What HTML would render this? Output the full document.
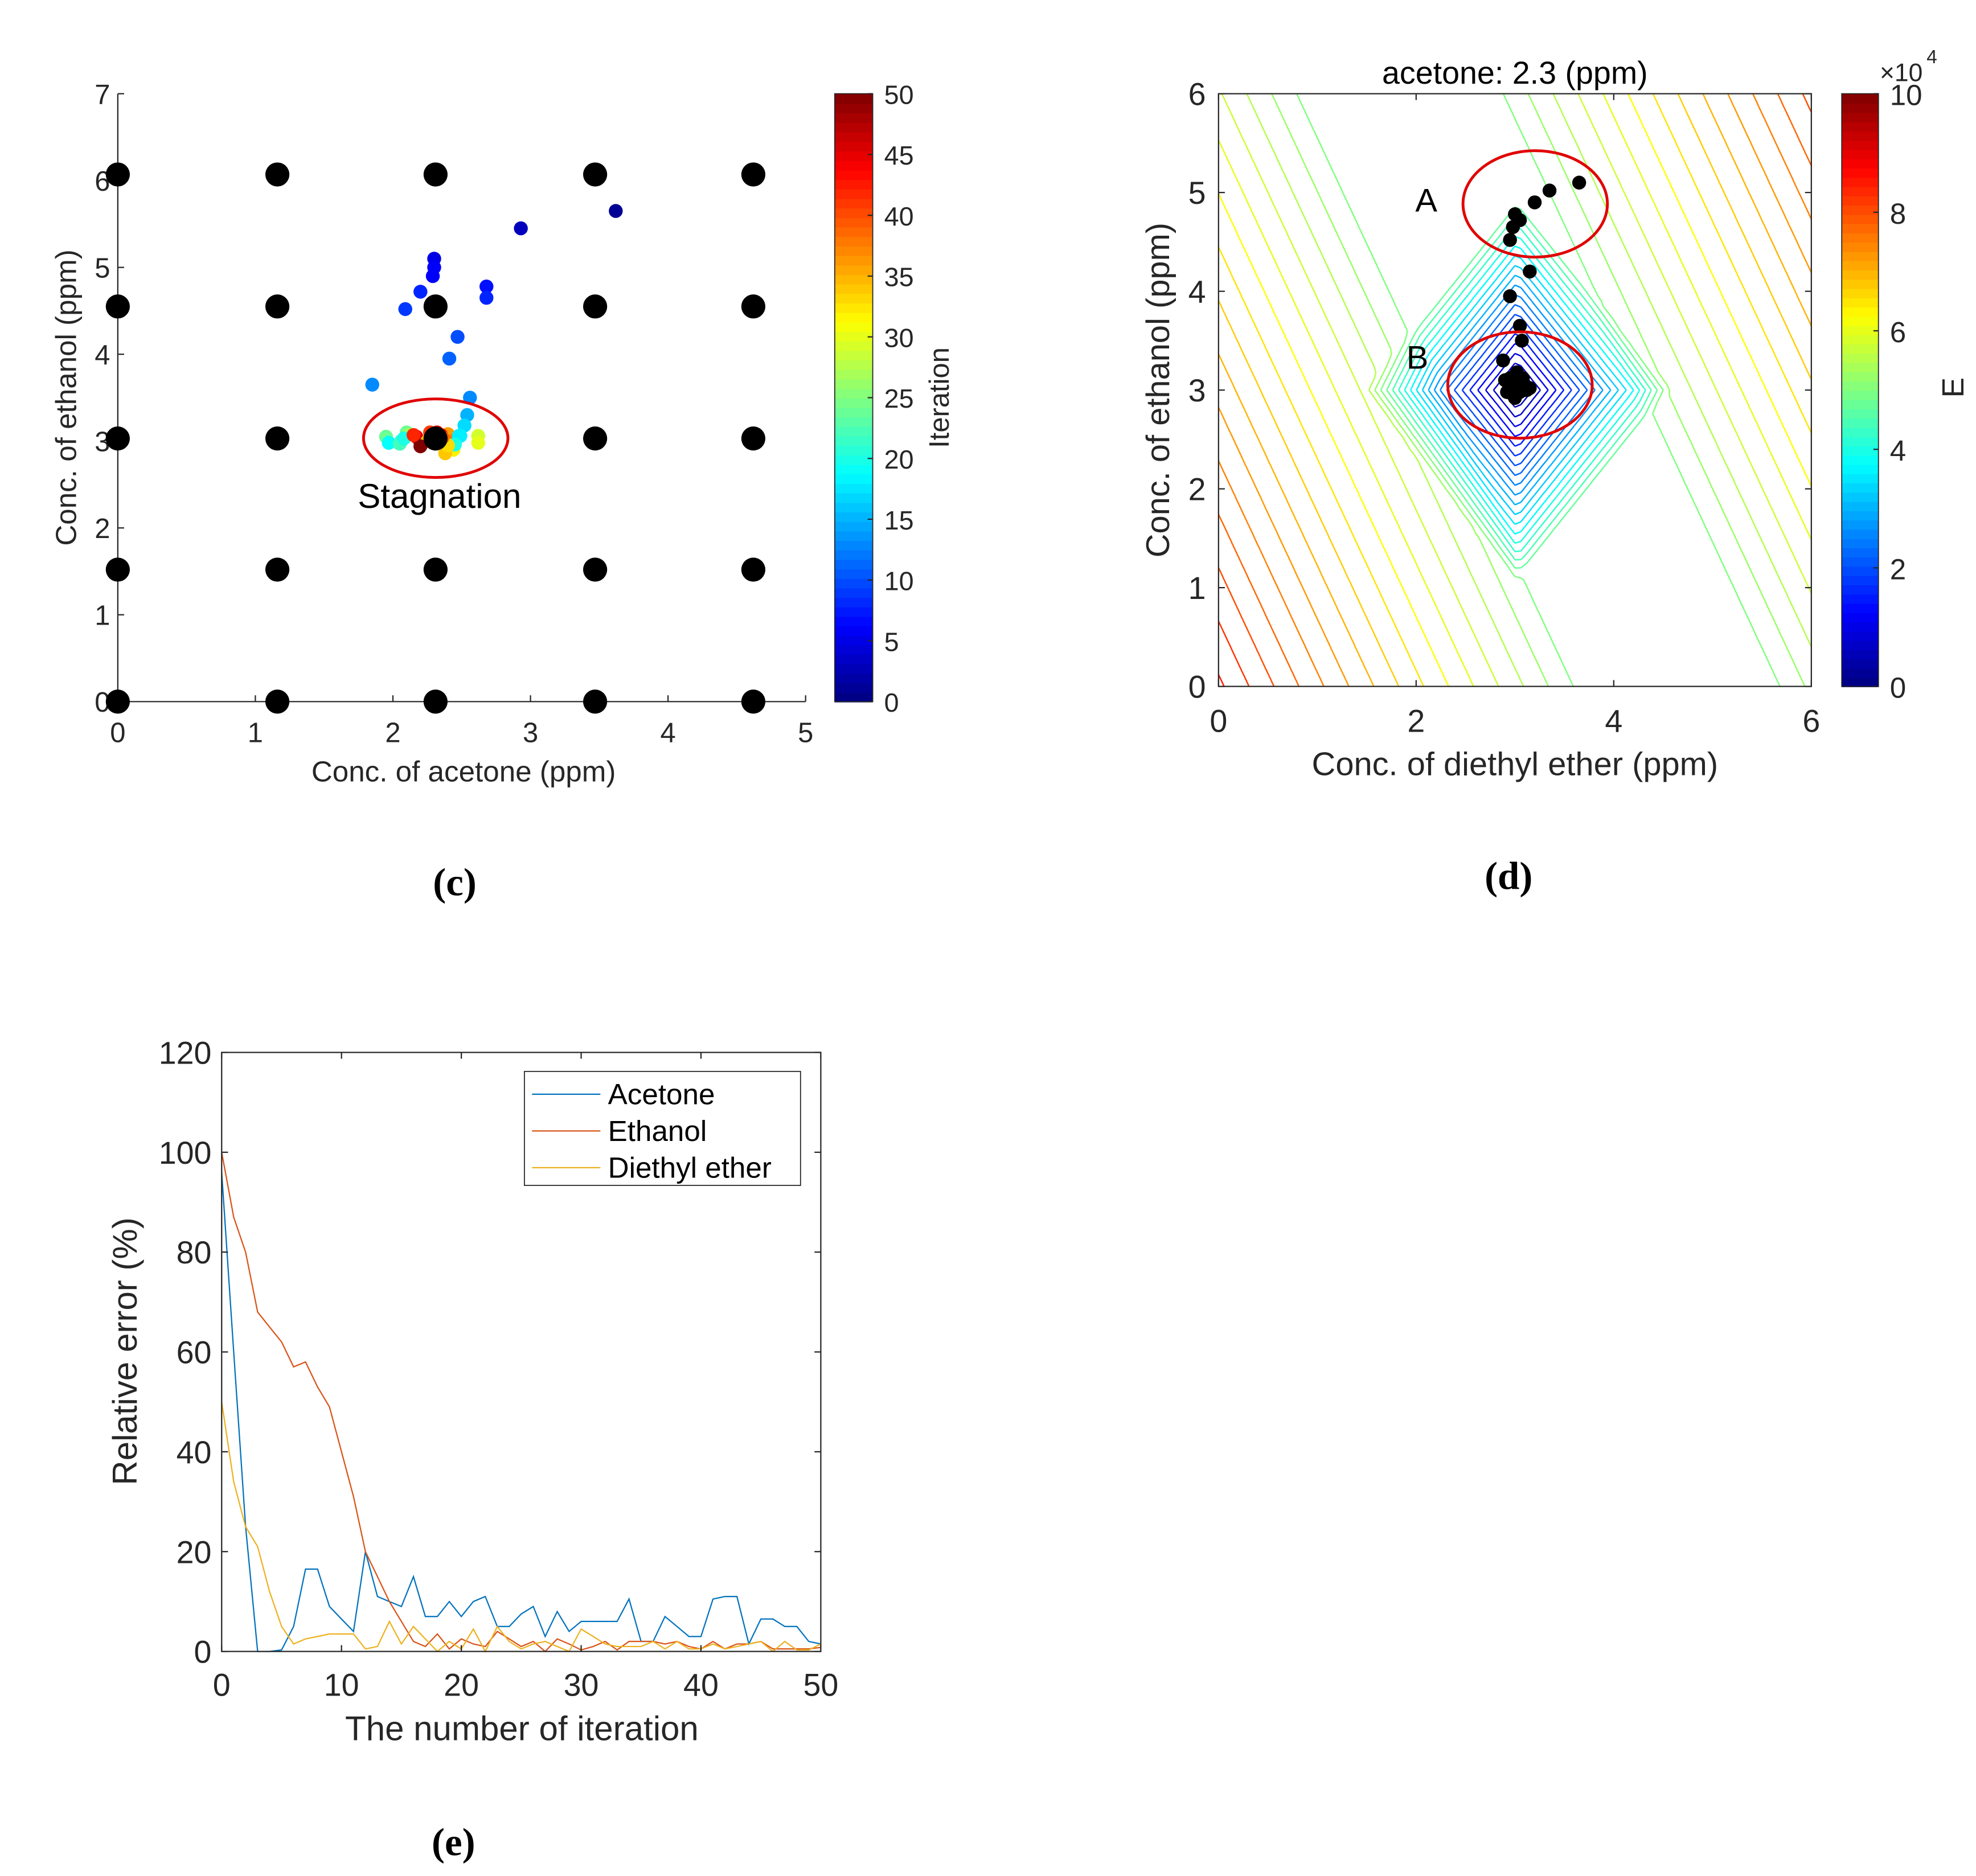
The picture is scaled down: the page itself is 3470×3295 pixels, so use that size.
<!DOCTYPE html>
<html><head><meta charset="utf-8"><style>
html,body{margin:0;padding:0;background:#fff;}
svg{display:block;}
text{font-family:"Liberation Sans",sans-serif;fill:#262626;}
</style></head><body>
<svg id="fig" xmlns="http://www.w3.org/2000/svg" width="3470" height="3295" viewBox="0 0 1560 1481.3" preserveAspectRatio="none">
<rect x="0" y="0" width="1560" height="1481.3" fill="#fff"/>
<g id="pc"></g>
<g id="pd"></g>
<g id="pe"></g>
<text x="359" y="707" font-weight="bold" font-size="31" text-anchor="middle" style="font-family:'Liberation Serif',serif;fill:#000">(c)</text>
<text x="1191" y="702" font-weight="bold" font-size="31" text-anchor="middle" style="font-family:'Liberation Serif',serif;fill:#000">(d)</text>
<text x="358" y="1465" font-weight="bold" font-size="31" text-anchor="middle" style="font-family:'Liberation Serif',serif;fill:#000">(e)</text>
</svg>
<script>
// ---------- data: panel c ----------
const gridX = [0, 1.16, 2.31, 3.47, 4.62];
const gridY = [0, 1.52, 3.03, 4.55, 6.07];
const cPtsX = [3.62,2.93,2.3,2.3,2.29,2.2,2.09,2.68,2.68,2.47,2.41,1.85,2.56,2.54,2.52,2.49,
  1.95,1.97,2.06,2.1,2.05,2.12,2.08,2.17,2.2,2.25,2.28,2.4,2.44,2.45,2.38,2.35,2.43,2.48,2.45,2.62,2.62,2.4,2.2,2.15,2.32,2.36,2.27];
const cPtsY = [5.65,5.45,5.1,5.0,4.9,4.72,4.52,4.78,4.65,4.2,3.95,3.65,3.5,3.3,3.18,3.06,
  3.05,2.98,3.0,3.1,2.97,3.08,3.03,3.05,2.98,3.0,3.0,3.08,2.9,2.98,2.86,3.07,3.0,3.06,2.96,3.06,2.98,2.95,2.94,3.07,3.1,3.04,3.1];
const cPtsIter = [1,3,5,6,6,8,9,7,8,10,11,13,13,15,17,18,
  24,19,21,24,22,26,20,45,47,35,40,36,32,19,34,43,38,18,20,29,30,33,50,42,44,39,41];
const cbTicks = [0,5,10,15,20,25,30,35,40,45,50];
// ---------- data: panel d ----------
const dPtsX = [3.65,3.35,3.2,3.0,3.05,2.98,2.95,3.15,2.95,3.05,3.07,2.88,
  2.9,2.95,3.0,3.05,3.1,3.12,3.0,2.95,3.08,2.92,3.15,3.02];
const dPtsY = [5.1,5.02,4.9,4.78,4.72,4.65,4.52,4.2,3.95,3.65,3.5,3.3,
  3.1,3.0,3.05,2.98,3.05,3.0,2.92,3.12,3.12,2.98,3.02,3.18];
const dTicksX = [0,2,4,6];
const dTicksY = [0,1,2,3,4,5,6];
const dCbTicks = [0,2,4,6,8,10];
// ---------- data: panel e ----------
const iters = Array.from({length:51},(_,i)=>i);
const acetone = [96,60,25,0,0,0.3,5,16.5,16.5,9,6.5,4,20,11,10,9,15,7,7,10,7,10,11,5,5,7.5,9,3,8,4,6,6,6,6,10.5,2,2,7,5,3,3,10.5,11,11,1.5,6.5,6.5,5,5,2,1.5];
const ethanol = [100,87,80,68,65,62,57,58,53,49,40,31,20,15,10,6,2,1,3.5,0.5,2.5,1.5,1,4,2.5,1,2,0,2.5,1.5,0.3,1,2,0.3,2,2,2,1.5,2,1,0.5,2,0.5,1.5,1.5,2,0.5,0.5,0.5,0.5,0.8];
const diethyl = [50,34,25,21,12,5,1.5,2.5,3,3.5,3.5,3.5,0.5,1,6,1.5,5,2.5,0,2,0.5,4.5,0,5,2,0.5,1.5,2,1,0,4.5,3,1.5,1,1,1,2,0.5,2,0.5,0.5,1.5,0.5,1,1.5,2,0,2,0.3,0.3,1.5];
const eTicksX = [0,10,20,30,40,50];
const eTicksY = [0,20,40,60,80,100,120];

const NS="http://www.w3.org/2000/svg";
function mk(parent,tag,attrs,txt){const e=document.createElementNS(NS,tag);for(const k in attrs)e.setAttribute(k,attrs[k]);if(txt!==undefined)e.textContent=txt;parent.appendChild(e);return e;}
function jet(t){t=Math.max(0,Math.min(1,t));const r=Math.min(4*t-1.5,-4*t+4.5),g=Math.min(4*t-0.5,-4*t+3.5),b=Math.min(4*t+0.5,-4*t+2.5);
 const c=v=>Math.round(255*Math.max(0,Math.min(1,v)));return `rgb(${c(r)},${c(g)},${c(b)})`;}

// ================= Panel C =================
(function(){
const g=document.getElementById('pc');
const x0=93,x1=636,y0=554,y1=74;
const sx=v=>x0+(v/5)*(x1-x0), sy=v=>y0-(v/7)*(y0-y1);
let e=mk(g,'line',{x1:x0,y1:y0,x2:x0,y2:y1,stroke:'#262626','stroke-width':1});
 
e=mk(g,'line',{x1:x0,y1:y0,x2:x1,y2:y0,stroke:'#262626','stroke-width':1});
 
for(let v=0;v<=5;v++){mk(g,'line',{x1:sx(v),y1:y0,x2:sx(v),y2:y0-5,stroke:'#262626'});
 e=mk(g,'text',{x:sx(v),y:y0+32,'font-size':22,'text-anchor':'middle'},String(v));
  }
for(let v=0;v<=7;v++){mk(g,'line',{x1:x0,y1:sy(v),x2:x0+5,y2:sy(v),stroke:'#262626'});
 e=mk(g,'text',{x:x0-6,y:sy(v)+8,'font-size':22,'text-anchor':'end'},String(v));
  }
e=mk(g,'text',{x:366,y:617,'font-size':23,'text-anchor':'middle'},'Conc. of acetone (ppm)');
 
e=mk(g,'text',{x:0,y:0,'font-size':23,'text-anchor':'middle',transform:'translate(60,314) rotate(-90)'},'Conc. of ethanol (ppm)');
 
for(const gx of gridX)for(const gy of gridY){e=mk(g,'circle',{cx:sx(gx),cy:sy(gy),r:9.5,fill:'#000'});
  }
for(let i=0;i<cPtsX.length;i++){e=mk(g,'circle',{cx:sx(cPtsX[i]),cy:sy(cPtsY[i]),r:5.5,fill:jet(cPtsIter[i]/50)});
  }
e=mk(g,'circle',{cx:sx(gridX[2]),cy:sy(gridY[2]),r:9.5,fill:'#000'});
 
e=mk(g,'ellipse',{cx:344,cy:346,rx:57,ry:31,fill:'none',stroke:'#e00000','stroke-width':2.2});
 
e=mk(g,'text',{x:347,y:401,'font-size':27,'text-anchor':'middle',style:'fill:#000'},'Stagnation');
 
const cbx=659,cbw=30,cby0=554,cby1=74;
for(let k=0;k<64;k++){const h=(cby0-cby1)/64;e=mk(g,'rect',{x:cbx,y:cby0-(k+1)*h,width:cbw,height:h+0.6,fill:jet((k+0.5)/64)});
  }
mk(g,'rect',{x:cbx,y:cby1,width:cbw,height:cby0-cby1,fill:'none',stroke:'#262626','stroke-width':0.8});
for(const t of cbTicks){const y=cby0-(t/50)*(cby0-cby1);mk(g,'line',{x1:cbx+cbw-4,y1:y,x2:cbx+cbw,y2:y,stroke:'#262626'});
 e=mk(g,'text',{x:698,y:y+8,'font-size':21},String(t)); }
e=mk(g,'text',{x:0,y:0,'font-size':22,'text-anchor':'middle',transform:'translate(749,314) rotate(-90)'},'Iteration');
 
})();

// ================= Panel D =================
(function(){
const g=document.getElementById('pd');
const x0=962,x1=1430,y0=542,y1=74;
const sx=v=>x0+(v/6)*(x1-x0), sy=v=>y0-(v/6)*(y0-y1);
function E(x,y){const dx=x-3.02,dy=y-3.0;
 const L=Math.abs(dx)/1.0+Math.abs(dy)/1.25;
 const near=4.9e4*Math.min(1,L/1.55);
 const u=0.9*(x-3.05)+0.42*(y-3.4);
 const excess=1.1e4*Math.max(0,Math.abs(u)-0.85);
 return near+excess;}
const N=100,h=6/N;const F=[];for(let i=0;i<=N;i++){F[i]=[];for(let j=0;j<=N;j++)F[i][j]=E(i*h,j*h);}
const defs=mk(g,'defs',{});const cp=mk(defs,'clipPath',{id:'clipd'});mk(cp,'rect',{x:x0,y:y1,width:x1-x0,height:y0-y1});
const cl=mk(g,'g',{'clip-path':'url(#clipd)'});
for(let lev=2500;lev<1e5;lev+=2500){let d='';
 for(let i=0;i<N;i++)for(let j=0;j<N;j++){
  const v=[F[i][j],F[i+1][j],F[i+1][j+1],F[i][j+1]];const P=[[i,j],[i+1,j],[i+1,j+1],[i,j+1]];
  const pts=[];for(let k=0;k<4;k++){const a=v[k],b=v[(k+1)%4];if((a<lev)!==(b<lev)){const t=(lev-a)/(b-a);const pa=P[k],pb=P[(k+1)%4];
   pts.push([sx((pa[0]+t*(pb[0]-pa[0]))*h),sy((pa[1]+t*(pb[1]-pa[1]))*h)]);}}
  if(pts.length>=2)d+=`M${pts[0][0].toFixed(1)},${pts[0][1].toFixed(1)}L${pts[1][0].toFixed(1)},${pts[1][1].toFixed(1)}`;
  if(pts.length===4)d+=`M${pts[2][0].toFixed(1)},${pts[2][1].toFixed(1)}L${pts[3][0].toFixed(1)},${pts[3][1].toFixed(1)}`;}
 if(d){const e=mk(cl,'path',{d:d,fill:'none',stroke:jet(lev/1e5),'stroke-width':1.1});
   }}
let e=mk(g,'rect',{x:x0,y:y1,width:x1-x0,height:y0-y1,fill:'none',stroke:'#262626','stroke-width':1});
 
for(const v of dTicksX){mk(g,'line',{x1:sx(v),y1:y0,x2:sx(v),y2:y0-5,stroke:'#262626'});mk(g,'line',{x1:sx(v),y1:y1,x2:sx(v),y2:y1+5,stroke:'#262626'});
 e=mk(g,'text',{x:sx(v),y:y0+36,'font-size':25,'text-anchor':'middle'},String(v)); }
for(const v of dTicksY){mk(g,'line',{x1:x0,y1:sy(v),x2:x0+5,y2:sy(v),stroke:'#262626'});mk(g,'line',{x1:x1,y1:sy(v),x2:x1-5,y2:sy(v),stroke:'#262626'});
 e=mk(g,'text',{x:x0-10,y:sy(v)+9,'font-size':25,'text-anchor':'end'},String(v)); }
e=mk(g,'text',{x:1196,y:66,'font-size':25,'text-anchor':'middle',style:'fill:#000'},'acetone: 2.3 (ppm)');
 
e=mk(g,'text',{x:1196,y:612,'font-size':26,'text-anchor':'middle'},'Conc. of diethyl ether (ppm)');
 
e=mk(g,'text',{x:0,y:0,'font-size':26,'text-anchor':'middle',transform:'translate(923,308) rotate(-90)'},'Conc. of ethanol (ppm)');
 
for(let i=0;i<dPtsX.length;i++){e=mk(g,'circle',{cx:sx(dPtsX[i]),cy:sy(dPtsY[i]),r:5.5,fill:'#000'});
  }
e=mk(g,'ellipse',{cx:1212,cy:161,rx:57,ry:42,fill:'none',stroke:'#e00000','stroke-width':2.2});
 
e=mk(g,'ellipse',{cx:1200,cy:304,rx:57,ry:42,fill:'none',stroke:'#e00000','stroke-width':2.2});
 
e=mk(g,'text',{x:1126,y:167,'font-size':26,'text-anchor':'middle',style:'fill:#000'},'A');
 
e=mk(g,'text',{x:1119,y:291,'font-size':26,'text-anchor':'middle',style:'fill:#000'},'B');
 
const cbx=1454,cbw=29;
for(let k=0;k<64;k++){const hh=(y0-y1)/64;e=mk(g,'rect',{x:cbx,y:y0-(k+1)*hh,width:cbw,height:hh+0.6,fill:jet((k+0.5)/64)});
  }
mk(g,'rect',{x:cbx,y:y1,width:cbw,height:y0-y1,fill:'none',stroke:'#262626','stroke-width':0.8});
for(const t of dCbTicks){const y=y0-(t/10)*(y0-y1);mk(g,'line',{x1:cbx+cbw-4,y1:y,x2:cbx+cbw,y2:y,stroke:'#262626'});
 e=mk(g,'text',{x:1492,y:y+9,'font-size':23},String(t)); }
e=mk(g,'text',{x:1484,y:64,'font-size':20},'×10'); 
e=mk(g,'text',{x:1521,y:50,'font-size':15},'4'); 
e=mk(g,'text',{x:0,y:0,'font-size':24,'text-anchor':'middle',transform:'translate(1550,306) rotate(-90)'},'E');
 
})();

// ================= Panel E =================
(function(){
const g=document.getElementById('pe');
const x0=175,x1=648,y0=1304,y1=831;
const sx=v=>x0+(v/50)*(x1-x0), sy=v=>y0-(v/120)*(y0-y1);
const series=[[acetone,'#0072BD','line-acetone'],[ethanol,'#D95319','line-ethanol'],[diethyl,'#EDB120','line-diethyl-ether']];
for(const [vals,col,name] of series){const d=vals.map((v,i)=>(i?'L':'M')+sx(iters[i]).toFixed(1)+','+sy(v).toFixed(1)).join('');
 const e=mk(g,'path',{d:d,fill:'none',stroke:col,'stroke-width':1});
  }
let e=mk(g,'rect',{x:x0,y:y1,width:x1-x0,height:y0-y1,fill:'none',stroke:'#262626','stroke-width':1});
 
for(const v of eTicksX){mk(g,'line',{x1:sx(v),y1:y0,x2:sx(v),y2:y0-5,stroke:'#262626'});mk(g,'line',{x1:sx(v),y1:y1,x2:sx(v),y2:y1+5,stroke:'#262626'});
 e=mk(g,'text',{x:sx(v),y:y0+35,'font-size':25,'text-anchor':'middle'},String(v)); }
for(const v of eTicksY){mk(g,'line',{x1:x0,y1:sy(v),x2:x0+5,y2:sy(v),stroke:'#262626'});mk(g,'line',{x1:x1,y1:sy(v),x2:x1-5,y2:sy(v),stroke:'#262626'});
 e=mk(g,'text',{x:x0-8,y:sy(v)+9,'font-size':25,'text-anchor':'end'},String(v)); }
e=mk(g,'text',{x:412,y:1374,'font-size':27,'text-anchor':'middle'},'The number of iteration');
 
e=mk(g,'text',{x:0,y:0,'font-size':27,'text-anchor':'middle',transform:'translate(108,1067) rotate(-90)'},'Relative error (%)');
 
const lg=mk(g,'g',{}); 
mk(lg,'rect',{x:414,y:846,width:218,height:90,fill:'#fff',stroke:'#262626','stroke-width':0.8});
const names=['Acetone','Ethanol','Diethyl ether'];
series.forEach((s,k)=>{const y=864+k*29;mk(lg,'line',{x1:420,y1:y,x2:474,y2:y,stroke:s[1],'stroke-width':1});
 const t=mk(lg,'text',{x:480,y:y+8,'font-size':23,style:'fill:#000'},names[k]); });
})();
</script>
</body></html>
